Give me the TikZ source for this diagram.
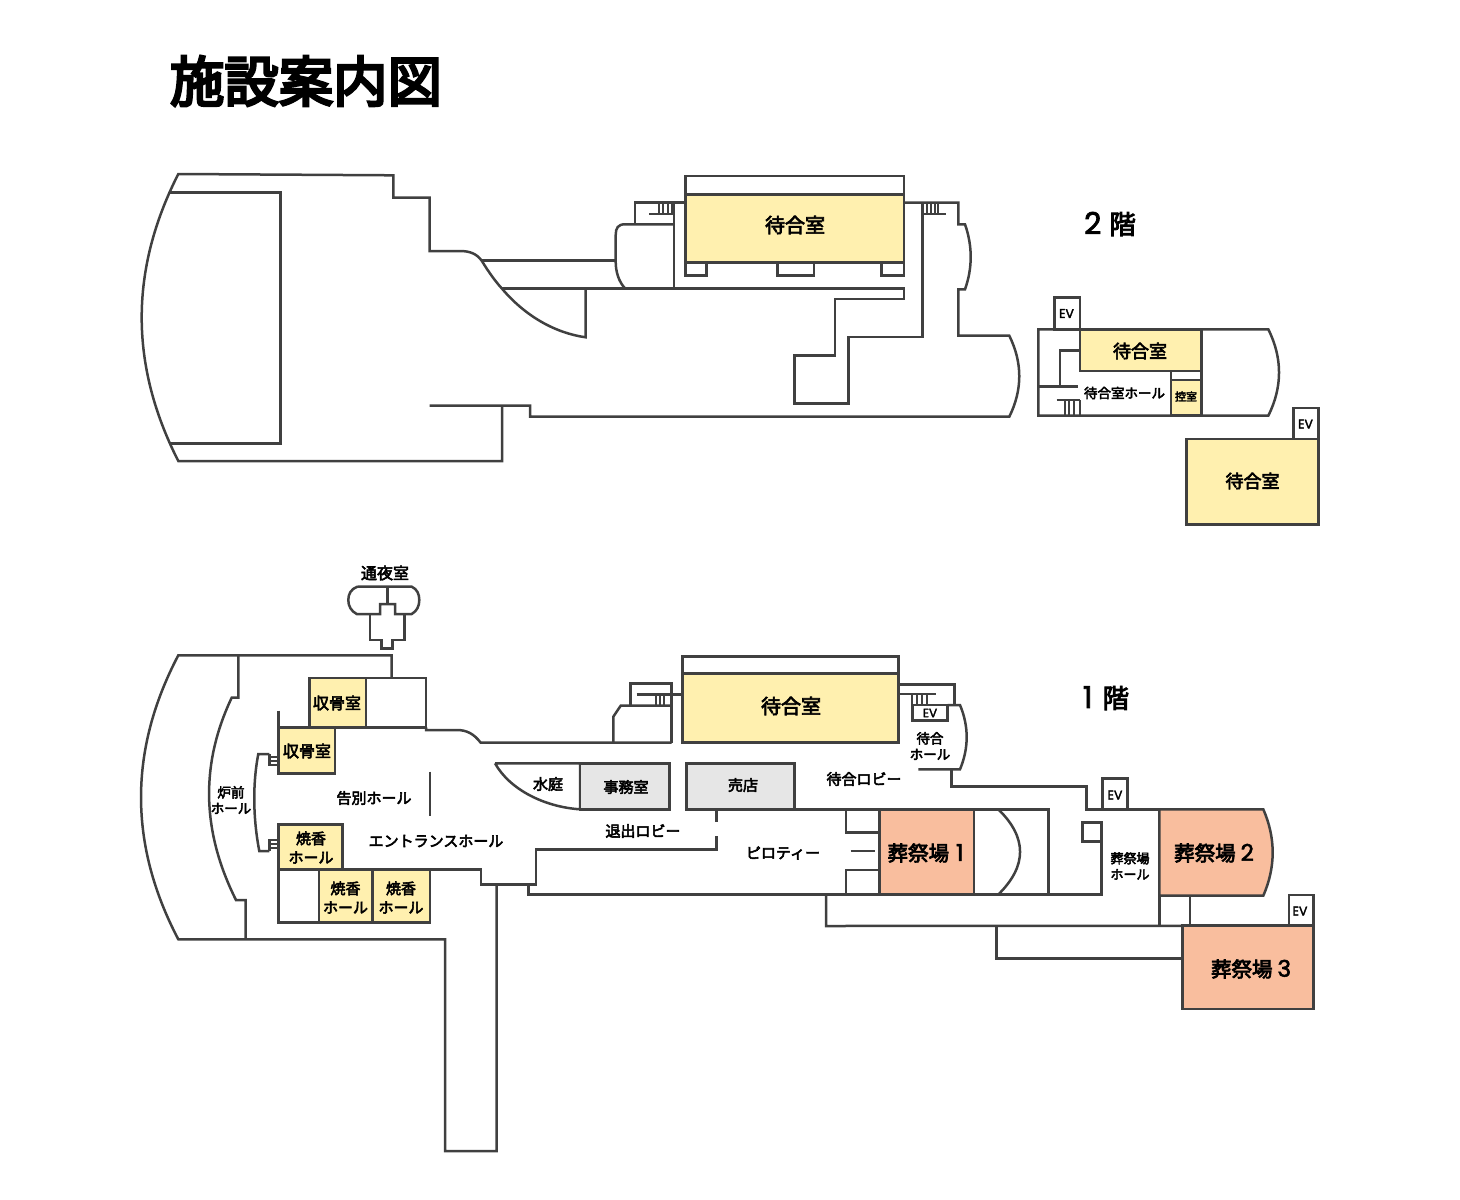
\documentclass[tikz,border=0pt]{standalone}
\usepackage{fontspec}
\setmainfont{Noto Sans CJK JP}
\newfontfamily\jpmed{Noto Sans CJK JP}[FakeBold=3.5]
\newfontfamily\jptitle{Noto Sans CJK JP}[FakeBold=5]
\newfontfamily\latinmed{Poppins}[FakeBold=2.5]
\definecolor{wallc}{HTML}{404040}
\definecolor{waitc}{HTML}{FFF0AF}
\definecolor{hallc}{HTML}{F9BE9E}
\definecolor{officec}{HTML}{E6E6E6}

\begin{document}
\begin{tikzpicture}[x=1pt, y=-1pt]
    \tikzstyle{wall} = [draw=wallc, line width=2.5pt, line join=miter]
    \tikzstyle{tread} = [draw=wallc, line width=1.8pt]
    \tikzstyle{wait} = [wall, fill=waitc]
    \tikzstyle{funeral} = [wall, fill=hallc]
    \tikzstyle{office} = [wall, fill=officec]
    \tikzstyle{txtL} = [inner sep=0pt, align=center, text=black, font=\jpmed\fontsize{20}{24}\selectfont]
    \tikzstyle{txtH} = [inner sep=0pt, align=center, text=black, font=\jpmed\fontsize{20.5}{24}\selectfont]
    \tikzstyle{txtM} = [inner sep=0pt, align=center, text=black, font=\jpmed\fontsize{18}{22}\selectfont]
    \tikzstyle{txtN} = [inner sep=0pt, align=center, text=black, font=\jpmed\fontsize{16}{20}\selectfont]
    \tikzstyle{txtS} = [inner sep=0pt, align=center, text=black, font=\jpmed\fontsize{15}{19}\selectfont]
    \tikzstyle{txtT} = [inner sep=0pt, align=center, text=black, font=\jpmed\fontsize{13.5}{16}\selectfont]
    \tikzstyle{txtEV} = [inner sep=0pt, text=black, font=\latinmed\fontsize{12.5}{14}\selectfont]
    \tikzstyle{floorname} = [inner sep=0pt, text=black, font=\jpmed\fontsize{26.5}{30}\selectfont]
  \useasboundingbox (0,0) rectangle (1460,1200);
  \node[inner sep=0pt, text=black, font=\jptitle\fontsize{54.4}{60}\selectfont](title) at (306,81){施設案内図};

  % second floor
  \draw[wall] (429.5,405.7) -- (530,405.7) -- (530,416.7) -- (1009.3,416.7)
    .. controls (1022.6,389.7) and (1022.6,362.7) .. (1009.3,335.7) -- (958.3,335.7) -- (958.3,289.3) -- (965,289.3)
    .. controls (972.6,268) and (972.6,246) .. (965,224.3) -- (958.3,224.3) -- (958.3,202.7) -- (904,202.7);
  \draw[wall] (585.7,288.3) -- (585.7,337.3) .. controls (555,333) and (525,316) .. (501.7,288.3)
    .. controls (495,281) and (488,271) .. (481.7,260.7) .. controls (477,254) and (470,251) .. (460,251)
    -- (429.5,251) -- (429.5,197.7) -- (393.3,197.7) -- (393.3,175.3) -- (178.3,174)
    .. controls (129.5,270) and (129.5,365) .. (178.3,461) -- (502,461) -- (502,405.7);
  \draw[wall] (169.3,192.3) -- (280.7,192.3) -- (280.7,443.3) -- (169.3,443.3);
  \draw[wall] (481.7,260.7) -- (615.7,260.7);
  \draw[wall] (501.7,288.3) -- (904,288.3) -- (904,299) -- (835,299) -- (835,355.3) -- (794.7,355.3)
    -- (794.7,403.7) -- (848.7,403.7) -- (848.7,337) -- (922.3,337) -- (922.3,202.7);
  \draw[wall] (674,288.3) -- (674,202.7);
  \draw[wall] (685,202.7) -- (635,202.7) -- (635,224.3);
  \draw[wall] (674,224.3) -- (625,224.3) .. controls (618,224.3) and (615.7,228) .. (615.7,235)
    -- (615.7,262) .. controls (615.7,272) and (619,282) .. (625,288.3);
  \draw[wall] (649,214) -- (674,214);
  \foreach \sx in {659.3,663.3,667.7,671.7} \draw[tread] (\sx,203) -- (\sx,214);
  \draw[wall] (922.3,214) -- (945.7,214);
  \foreach \sx in {926.7,930.7,935,938.3} \draw[tread] (\sx,203) -- (\sx,214);
  \draw[wall] (685.5,176) rectangle (904,194.3);
  \draw[wall] (685.5,262.3) rectangle (706.7,275.7);
  \draw[wall] (777.3,262.3) rectangle (814,275.7);
  \draw[wall] (881.7,262.3) rectangle (904,275.7);
  \draw[wait] (685.5,194.3) rectangle (904,262.3);
  \node[txtL](waitroomA) at (795,225){待合室};
  \node[floorname](floorB) at (1110,224){{\latinmed\fontsize{30}{30}\selectfont 2}\hspace{8pt}階};

  % second floor, right part
  \draw[wall] (1038.3,329.3) -- (1268.3,329.3) .. controls (1282.6,358) and (1282.6,387) .. (1268.3,415.7)
    -- (1038.3,415.7) -- cycle;
  \draw[wall] (1054.3,297.7) rectangle (1080,329.3);
  \draw[wait] (1080,329.3) rectangle (1201.7,371);
  \draw[wall] (1201.7,371) -- (1201.7,415.7);
  \draw[wall] (1171,371) -- (1171,380);
  \draw[wait] (1171,380) rectangle (1201.7,415.7);
  \draw[wall] (1080,350.7) -- (1060,350.7) -- (1060,386.7);
  \draw[wall] (1038.3,386.7) -- (1078.3,386.7);
  \draw[wall] (1056.7,400) -- (1080,400);
  \foreach \sx in {1065,1069.3,1074,1080} \draw[tread] (\sx,400) -- (\sx,415.7);
  \draw[wall] (1293.3,408) rectangle (1318.7,439);
  \draw[wait] (1186.7,439) rectangle (1318.7,524.3);
  \node[txtEV](evA) at (1066.5,313.5){EV};
  \node[txtEV](evB) at (1305.5,424){EV};
  \node[txtM](waitroomB) at (1140,351){待合室};
  \node[txtT](waithall) at (1124.5,393){待合室ホール};
  \node[inner sep=0pt, text=black, font=\jpmed\fontsize{11}{13}\selectfont](spare) at (1186,396.5){控室};
  \node[txtM](waitroomC) at (1252.5,481){待合室};

  % first floor, night room
  \draw[wall] (357.3,586.7) -- (411.7,586.7) .. controls (417,589) and (419.3,594) .. (419.3,600)
    .. controls (419.3,606) and (417,611) .. (411.7,614) -- (395,614) -- (395,604) -- (380,604) -- (380,614) -- (356.7,614)
    .. controls (351,611) and (348.3,606) .. (348.3,600) .. controls (348.3,594) and (351,589) .. (357.3,586.7);
  \draw[wall] (387.3,586.7) -- (387.3,604);
  \draw[wall] (370,614) -- (370,640) -- (381.7,640) -- (381.7,648.7) -- (392.7,648.7) -- (392.7,640) -- (404.3,640) -- (404.3,614);
  \node[txtN](nightroom) at (385,573){通夜室};

  % first floor, left part
  \draw[wall] (391.7,678) -- (391.7,655.3) -- (178.3,655.3) .. controls (128.6,750) and (128.6,844.6) .. (178.3,939.3)
    -- (445,939.3) -- (445,1151) -- (496.7,1151) -- (496.7,884.7);
  \draw[wall] (238.3,655.3) -- (238.3,697.7) -- (231.7,697.7) .. controls (199.8,765) and (202,832) .. (236,900)
    -- (245.7,900) -- (245.7,939.3);
  \draw[wall] (269.3,754) -- (258.3,754) .. controls (252.3,785) and (253.3,820) .. (259.3,851) -- (269.3,851);
  \draw[wall] (269.3,754) -- (269.3,765) -- (278.3,765);
  \draw[tread] (269.3,757) -- (278.3,757);
  \draw[tread] (269.3,761) -- (278.3,761);
  \draw[wall] (269.3,851) -- (269.3,840) -- (278.3,840);
  \draw[tread] (269.3,844.3) -- (278.3,844.3);
  \draw[tread] (269.3,848.3) -- (278.3,848.3);
  \draw[wall] (278.3,710.7) -- (278.3,727.3);
  \draw[wall] (366,678) rectangle (426,727.3);
  \draw[wall] (426,727.3) -- (426,730) -- (456.7,730) .. controls (467,730) and (474,734) .. (480.7,742.7) -- (671.7,742.7);
  \draw[wall] (430,771.7) -- (430,816);
  \draw[wait] (309.3,678) rectangle (366,727.3);
  \draw[wait] (278.3,727.3) rectangle (335,773.3);
  \draw[wait] (278.3,824.3) rectangle (342.7,869.3);
  \draw[wall] (278.3,869.3) rectangle (319,922.3);
  \draw[wait] (319,869.3) rectangle (372.7,922.3);
  \draw[wait] (372.7,869.3) rectangle (430,922.3);
  \draw[wall] (430,869.3) -- (481,869.3) -- (481,884.7) -- (536,884.7) -- (536,849.3) -- (716.7,849.3) -- (716.7,836);
  \draw[wall] (716.7,821.7) -- (716.7,809.3);
  \draw[wall] (528.3,884.7) -- (528.3,894.5) -- (1101.7,894.5) -- (1101.7,841.7);
  \node[txtT](furnace) at (231,800){炉前\\ホール};
  \node[txtN](boneA) at (337,703){収骨室};
  \node[txtN](boneB) at (307,751){収骨室};
  \node[txtS](farewell) at (374,798){告別ホール};
  \node[txtS](entrance) at (436,841){エントランスホール};
  \node[txtS](incenseA) at (311,847.5){焼香\\ホール};
  \node[txtS](incenseB) at (345.5,897.5){焼香\\ホール};
  \node[txtS](incenseC) at (401,897.5){焼香\\ホール};

  % first floor, middle part
  \draw[wall] (613.3,742.7) -- (613.3,716.7) -- (620.7,705.7) -- (671.7,705.7);
  \draw[wall] (671.7,742.7) -- (671.7,683.3) -- (630.7,683.3) -- (630.7,705.7);
  \draw[wall] (636.7,694.3) -- (681.7,694.3);
  \foreach \sx in {655.7,660,664.3} \draw[tread] (\sx,694.3) -- (\sx,705.7);
  \draw[wall] (682.3,656.7) rectangle (898.3,673.3);
  \draw[wait] (682.3,673.3) rectangle (898.3,742.7);
  \draw[wall] (495,763.3) -- (580,763.3) -- (580,809.3) .. controls (545,807) and (510,790) .. (495,763.3);
  \draw[office] (580,763.3) rectangle (669.3,809.3);
  \draw[office] (686.7,763.3) rectangle (794.3,809.3);
  \node[txtL](waitroomD) at (791,706){待合室};
  \node[txtS](pond) at (548,784){水庭};
  \node[txtS](officeroom) at (626,787){事務室};
  \node[txtS](shop) at (743,785){売店};
  \node[txtS](exitlobby) at (643,831){退出ロビー};
  \node[txtS](piloti) at (783,853){ピロティー};
  \node[txtS](waitlobby) at (864,779){待合ロビー};
  \node[floorname](floorA) at (1106,698){{\latinmed\fontsize{30}{30}\selectfont 1}\hspace{10pt}階};

  % first floor, right part
  \draw[wall] (898.3,684.3) -- (954.3,684.3) -- (954.3,705);
  \draw[wall] (898.3,694) -- (936,694);
  \foreach \sx in {912.3,916.7,921.7,926.7} \draw[tread] (\sx,694) -- (\sx,705);
  \draw[wall] (912.3,705) rectangle (947.7,720.7);
  \draw[wall] (947.7,705) -- (960,705) .. controls (968.9,726.4) and (968.9,748) .. (960,769.3) -- (918.3,769.3);
  \draw[wall] (951.7,769.3) -- (951.7,786.7) -- (1086.7,786.7) -- (1086.7,809.3) -- (1159.3,809.3);
  \draw[wall] (794.3,809.3) -- (1048.3,809.3) -- (1048.3,894.5);
  \draw[wall] (846,809.3) -- (846,832.3) -- (879.3,832.3);
  \draw[wall] (850.7,851) -- (875,851);
  \draw[wall] (879.3,870) -- (846,870) -- (846,894.5);
  \draw[wall] (998.3,809.3) .. controls (1027.3,837.5) and (1027.3,866) .. (998.3,894.5);
  \draw[funeral] (879.3,809.3) rectangle (974,894.5);
  \draw[wall] (1102.7,778.7) rectangle (1127.7,809.3);
  \draw[wall] (1082.3,822.7) rectangle (1101.7,841.7);
  \draw[wall] (826,894.5) -- (826,926) -- (1313.3,925.7);
  \draw[wall] (1159.3,895.7) -- (1159.3,925.7);
  \draw[wall] (1190,895.7) -- (1190,925.7);
  \draw[wall] (996.7,926) -- (996.7,958.3) -- (1182.7,958.3);
  \draw[funeral] (1159.3,809.3) -- (1263.3,809.3) .. controls (1275.8,838) and (1275.8,867) .. (1263.3,895.7) -- (1159.3,895.7) -- cycle;
  \draw[wall] (1289,895) rectangle (1313.3,925.7);
  \draw[funeral] (1182.7,925.7) rectangle (1313.3,1009);
  \node[txtEV, font=\latinmed\fontsize{12}{14}\selectfont](evC) at (930,713){EV};
  \node[txtEV](evD) at (1115,795){EV};
  \node[txtEV](evE) at (1300,911){EV};
  \node[txtT](waitsmall) at (930,746){待合\\ホール};
  \node[txtH](hallA) at (925.5,853){葬祭場\hspace{7pt}{\latinmed\fontsize{23}{24}\selectfont 1}};
  \node[txtH](hallB) at (1214,853){葬祭場\hspace{5pt}{\latinmed\fontsize{23}{24}\selectfont 2}};
  \node[txtH](hallC) at (1251,969){葬祭場\hspace{5pt}{\latinmed\fontsize{23}{24}\selectfont 3}};
  \node[txtT, font=\jpmed\fontsize{13}{16}\selectfont](hallfoyer) at (1130,866){葬祭場\\ホール};
\end{tikzpicture}
\end{document}
